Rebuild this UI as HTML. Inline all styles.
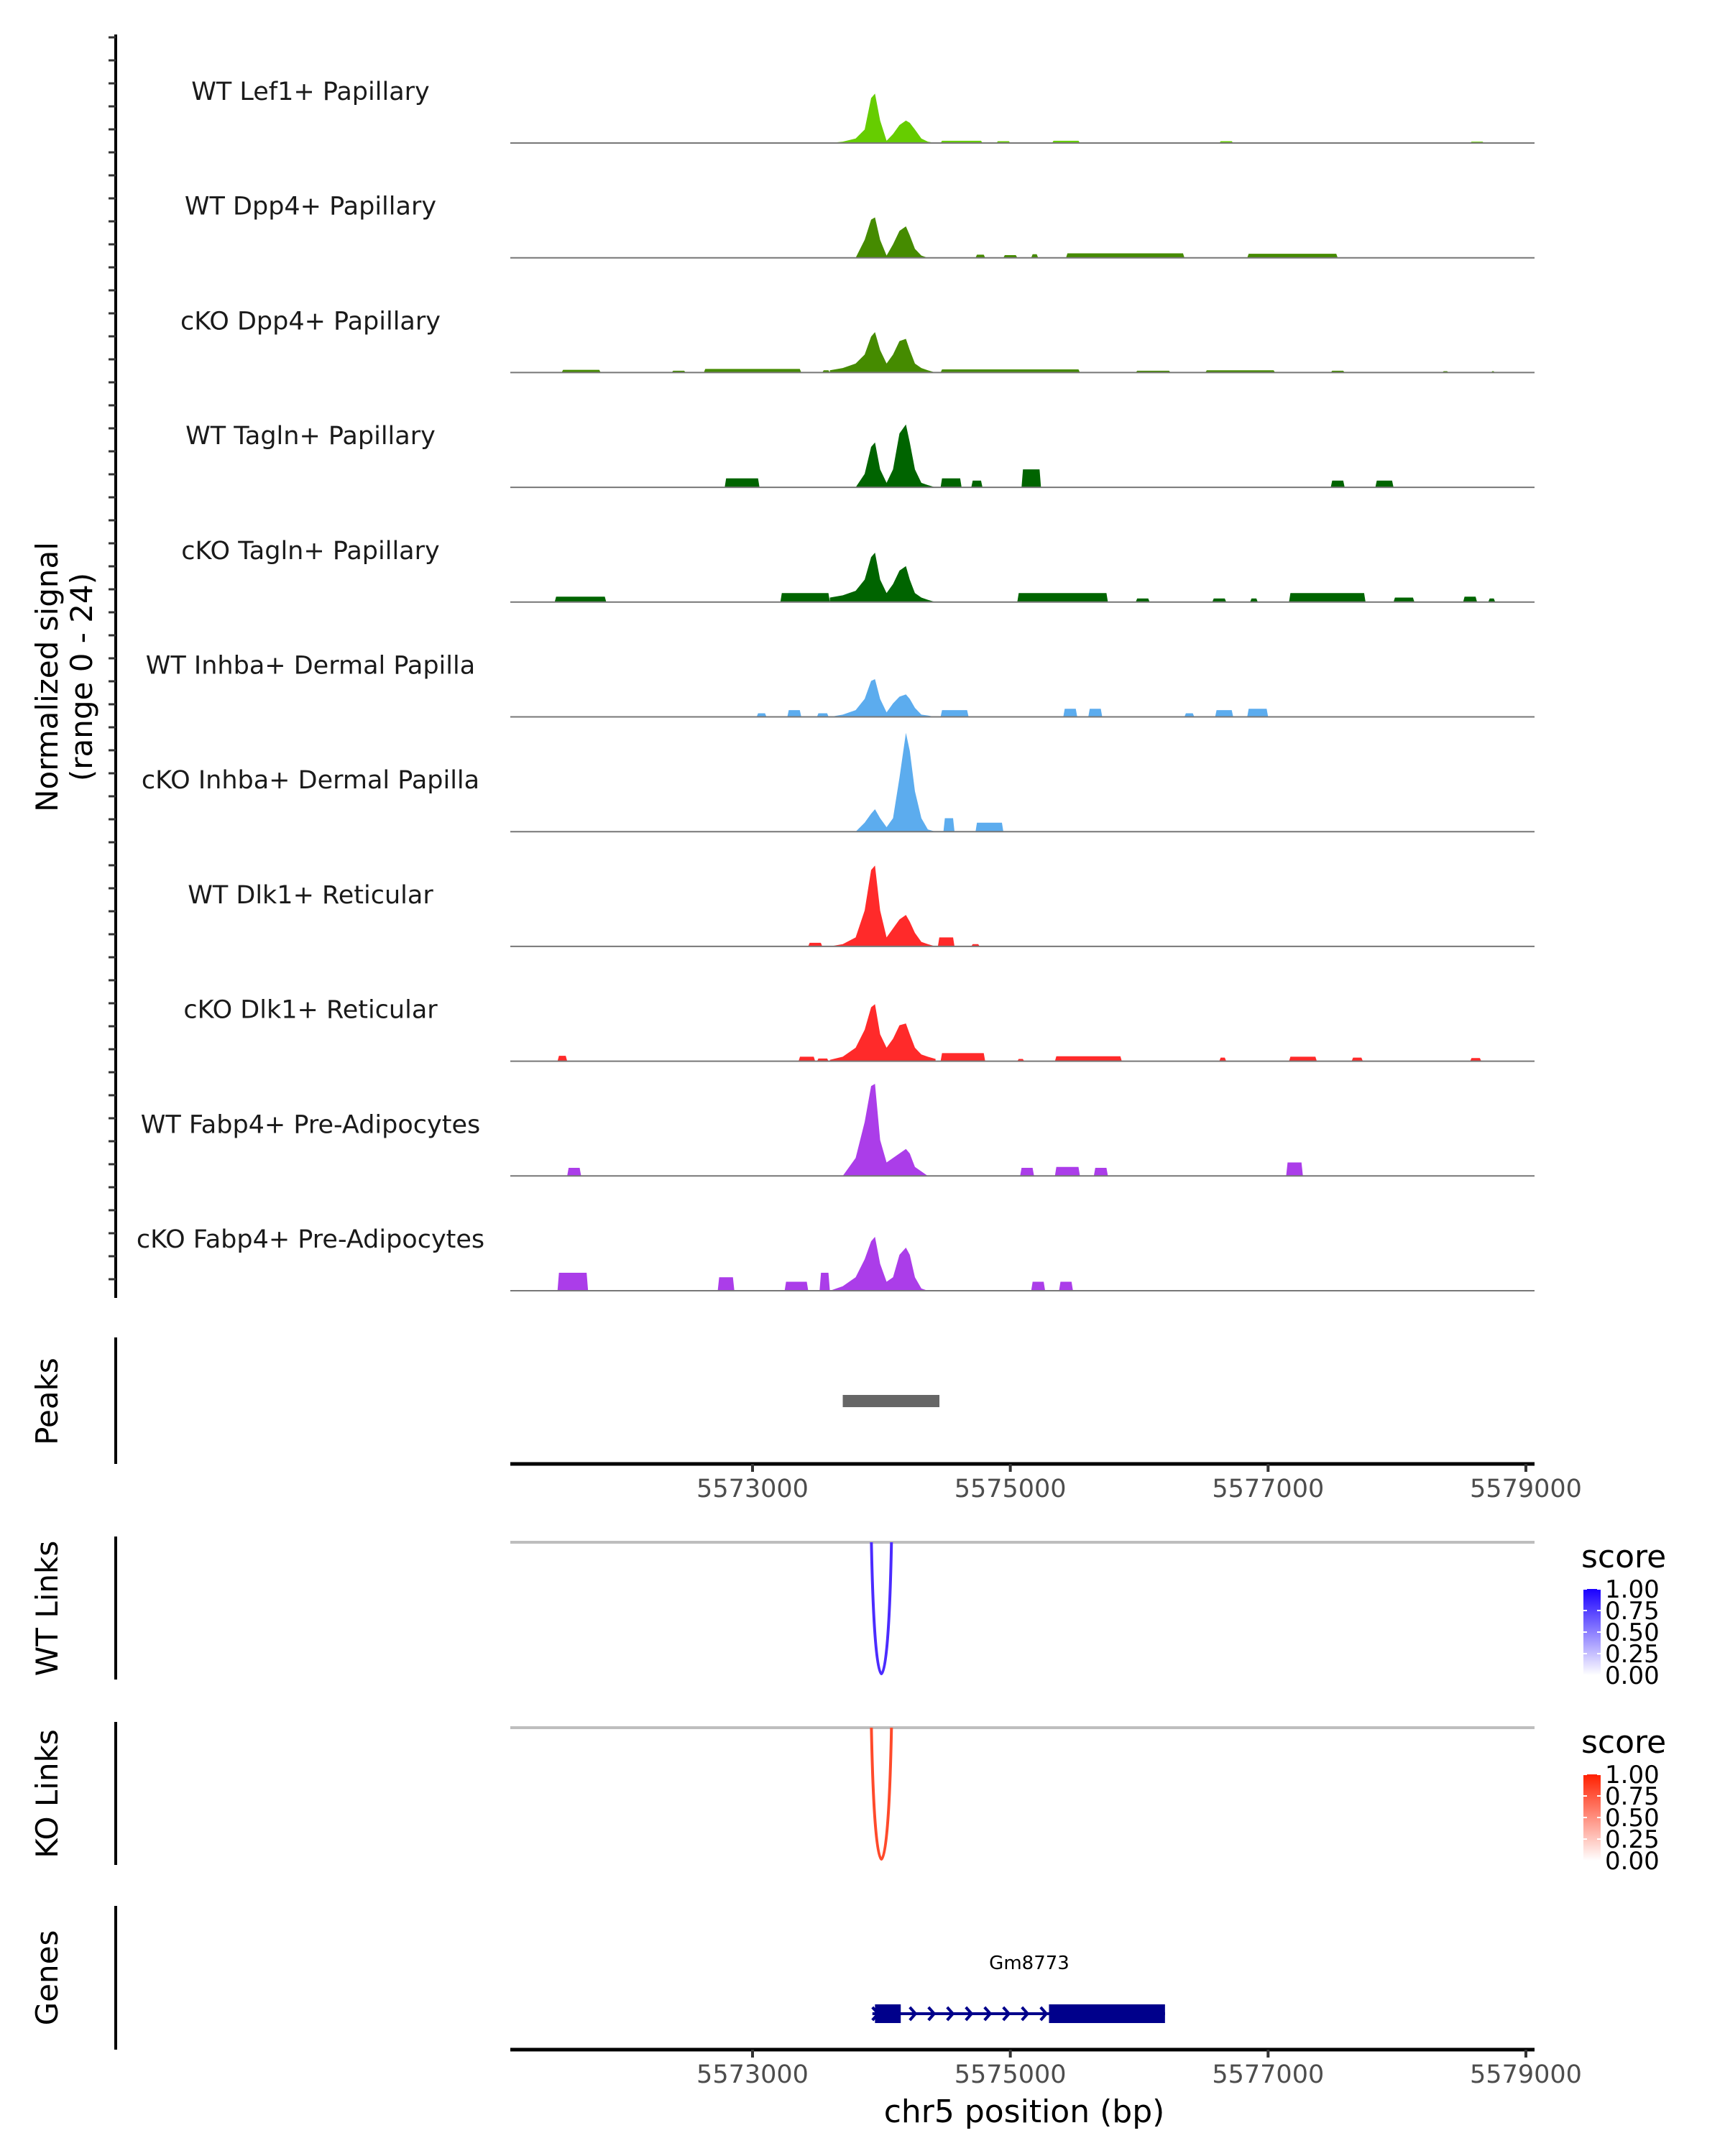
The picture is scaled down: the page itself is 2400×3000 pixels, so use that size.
<!DOCTYPE html>
<html><head><meta charset="utf-8"><style>
html,body{margin:0;padding:0;background:#fff}
svg{display:block}
text{font-family:"DejaVu Sans","Liberation Sans",sans-serif}
</style></head><body>
<svg id="chart" width="2400" height="3000" viewBox="0 0 2400 3000" xmlns="http://www.w3.org/2000/svg"></svg>
<script>
const trackNames = ["WT Lef1+ Papillary","WT Dpp4+ Papillary","cKO Dpp4+ Papillary","WT Tagln+ Papillary","cKO Tagln+ Papillary","WT Inhba+ Dermal Papilla","cKO Inhba+ Dermal Papilla","WT Dlk1+ Reticular","cKO Dlk1+ Reticular","WT Fabp4+ Pre-Adipocytes","cKO Fabp4+ Pre-Adipocytes"];
const trackColors = ["#66cd00","#458b00","#458b00","#006400","#006400","#5cacee","#5cacee","#ff2a2a","#ff2a2a","#ab3de9","#ab3de9"];
const mainBp = [5573600,5573700,5573800,5573870,5573920,5573950,5573990,5574040,5574090,5574140,5574190,5574220,5574260,5574310,5574360,5574420];
const mainVals = [
 [0,0.3,1,3,10,11,5,0.5,2,4,5,4.5,3,1,0.3,0],
 [0,0,0,4,8.5,9,4,0.5,3,6,7,5,2,0.5,0,0],
 [0.5,1,2,4,8,9,5,2,4,7,7.5,5,2,1,0.5,0],
 [0,0,0,3,9,10,4,1,4,12,14,10,4,1,0.5,0],
 [1,1.5,2.5,5,10,11,5,2,4,7,8,5,2,1,0.5,0],
 [0,0.5,1.5,4,8,8.4,4,1,3,4.5,5,4,2,0.5,0.3,0],
 [0,0,0,2,4,5,3,1,3,12,22,18,9,3,0.5,0],
 [0,0.5,2,8,17,18,8,2,4,6,7,5.5,3,1,0.5,0],
 [0.3,1,3,7,12,12.7,6,3,5,8,8.4,6,3,1.5,1,0.5],
 [0,0,4,12,20,20.5,8,3,4,5,6,5,2,1,0,0],
 [0,1,3,7,11,12,6,2,3,8,9.6,8,3,0.5,0,0]
];
const bumps = [
 [[5574459,5574784,0.5],[5574892,5575000,0.4],[5575324,5575540,0.5],[5576621,5576729,0.4],[5578567,5578675,0.3]],
 [[5574730,5574805,0.7],[5574946,5575054,0.6],[5575162,5575216,0.8],[5575432,5576351,1.0],[5576838,5577540,0.9]],
 [[5571519,5571822,0.6],[5572373,5572481,0.4],[5572622,5573378,0.8],[5573541,5573600,0.5],[5574459,5575540,0.7],[5575973,5576243,0.4],[5576513,5577054,0.5],[5577486,5577594,0.4],[5578351,5578400,0.3],[5578729,5578760,0.3]],
 [[5572784,5573054,2],[5574459,5574622,2],[5574697,5574784,1.5],[5575087,5575238,4],[5577486,5577594,1.5],[5577832,5577973,1.5]],
 [[5571465,5571865,1.2],[5573216,5573600,2],[5575054,5575757,2],[5575973,5576081,0.8],[5576567,5576675,0.8],[5576860,5576920,0.8],[5577162,5577756,2],[5577973,5578135,1],[5578513,5578621,1.2],[5578708,5578762,0.8]],
 [[5573032,5573108,0.8],[5573270,5573378,1.5],[5573500,5573590,0.8],[5574459,5574676,1.5],[5575411,5575519,1.8],[5575605,5575713,1.8],[5576351,5576427,0.8],[5576589,5576729,1.5],[5576838,5577000,1.8]],
 [[5574481,5574567,3],[5574730,5574946,2]],
 [[5573432,5573541,0.8],[5574438,5574567,2],[5574697,5574762,0.5]],
 [[5571487,5571562,1.2],[5573357,5573486,1],[5573500,5573590,0.6],[5574459,5574805,1.8],[5575054,5575108,0.5],[5575346,5575865,1.1],[5576621,5576675,0.8],[5577162,5577378,1],[5577648,5577735,0.8],[5578567,5578654,0.7]],
 [[5571562,5571670,1.8],[5575076,5575184,1.8],[5575346,5575540,2],[5575648,5575757,1.8],[5577140,5577270,3]],
 [[5571487,5571724,4],[5572730,5572859,3],[5573249,5573432,2],[5573520,5573600,4],[5575162,5575270,2],[5575378,5575486,2]]
];
const xTicks = [5573000,5575000,5577000,5579000];
const peakRegion = [5573700,5574450];
const linkStart = [5573950];
const linkEnd = [5574050];
const geneExons = [[5573950,5574150],[5575300,5576200]];
const geneSpan = [5573930,5576200];
const legendTicks = ["1.00","0.75","0.50","0.25","0.00"];

const svg = document.getElementById('chart');
const NS = 'http://www.w3.org/2000/svg';
function el(tag, attrs, parent){const e=document.createElementNS(NS,tag);for(const k in attrs)e.setAttribute(k,attrs[k]);(parent||svg).appendChild(e);return e;}
const X0=710, X1=2135;
function xs(bp){return 1047+(bp-5573000)*0.17933;}
const YMAX=24, TH=150;
function ys(v, base){return base - v/YMAX*TH;}
function baseOf(i){return 199+159.7*i;}

const ax = el('line',{x1:161,y1:48,x2:161,y2:1806,stroke:'#000','stroke-width':4});


for(let y=52;y<=1806;y+=32){
 const t=el('line',{x1:151,y1:y,x2:161,y2:y,stroke:'#333','stroke-width':3});
 
 
}
const yt = el('text',{transform:'translate(80,942) rotate(-90)','text-anchor':'middle','font-size':42,fill:'#000'});


yt.textContent='Normalized signal';
const yt2 = el('text',{transform:'translate(128,942) rotate(-90)','text-anchor':'middle','font-size':42,fill:'#000'});


yt2.textContent='(range 0 - 24)';

trackNames.forEach((name,i)=>{
 const base=baseOf(i);
 const g=el('g',{});
 
 
 const lab=el('text',{x:432,y:base-60,'text-anchor':'middle','font-size':35,fill:'#1a1a1a'},g);
 
 
 lab.textContent=name;
 bumps[i].forEach(b=>{
  const x1=xs(b[0]),x2=xs(b[1]),y=ys(b[2],base);
  const p=el('polygon',{points:`${x1},${base} ${x1+2},${y} ${x2-2},${y} ${x2},${base}`,fill:trackColors[i]},g);
  
  
 });
 let pts=mainBp.map((bp,j)=>`${xs(bp)},${ys(mainVals[i][j],base)}`);
 pts.unshift(`${xs(mainBp[0])},${base}`);
 pts.push(`${xs(mainBp[mainBp.length-1])},${base}`);
 const mp=el('polygon',{points:pts.join(' '),fill:trackColors[i]},g);
 
 
 const bl=el('line',{x1:X0,y1:base,x2:X1,y2:base,stroke:'#777','stroke-width':2},g);
 
 
});

function sideLabel(txt,cy,name){
 const t=el('text',{transform:`translate(80,${cy}) rotate(-90)`,'text-anchor':'middle','font-size':42,fill:'#000'});
 
 
 t.textContent=txt;
}
function sideAxis(y1,y2,name){
 const l=el('line',{x1:161,y1:y1,x2:161,y2:y2,stroke:'#000','stroke-width':4});
 
 
}
function xAxis(y,name){
 const l=el('line',{x1:X0,y1:y,x2:X1,y2:y,stroke:'#000','stroke-width':5});
 
 
 xTicks.forEach(v=>{
  const t=el('line',{x1:xs(v),y1:y,x2:xs(v),y2:y+11,stroke:'#333','stroke-width':4});
  
  
  const tl=el('text',{x:xs(v),y:y+46,'text-anchor':'middle','font-size':35,fill:'#4d4d4d'});
  
  
  tl.textContent=v;
 });
}
sideAxis(1861,2037,'peaks-axis-line');
sideLabel('Peaks',1950,'peaks-label');
const pk=el('rect',{x:xs(peakRegion[0]),y:1941,width:xs(peakRegion[1])-xs(peakRegion[0]),height:17,fill:'#666'});


xAxis(2037,'peaks-x-axis');

function links(top,bottom,color,label,name,cy,gradId,c1){
 sideAxis(top-8,bottom,name+'-axis-line');
 sideLabel(label,cy,name+'-label');
 const gl=el('line',{x1:X0,y1:top,x2:X1,y2:top,stroke:'#bebebe','stroke-width':4});
 
 
 const a=xs(linkStart[0]), b=xs(linkEnd[0]), m=(a+b)/2;
 const arc=el('path',{d:`M${a-5},${top} C${a-2},${bottom-40} ${m-4},${bottom-8} ${m},${bottom-8} C${m+4},${bottom-8} ${b+2},${bottom-40} ${b+5},${top}`,fill:'none',stroke:color,'stroke-width':4});
 
 
 const defs=el('defs',{});
 const lg=el('linearGradient',{id:gradId,x1:0,y1:1,x2:0,y2:0},defs);
 el('stop',{offset:0,'stop-color':'#fff'},lg);
 el('stop',{offset:1,'stop-color':c1},lg);
 const lt=el('text',{x:2200,y:top+35,'font-size':44,fill:'#000'});
 
 
 lt.textContent='score';
 const cb=el('rect',{x:2203,y:top+65,width:24,height:120,fill:`url(#${gradId})`});
 
 
 legendTicks.forEach((t,k)=>{
  const yy=top+65+k*30;
  const tt=el('text',{x:2233,y:yy+12,'font-size':34,fill:'#000'});
  
  
  tt.textContent=t;
  el('line',{x1:2203,y1:yy,x2:2208,y2:yy,stroke:'#fff','stroke-width':2});
  el('line',{x1:2222,y1:yy,x2:2227,y2:yy,stroke:'#fff','stroke-width':2});
 });
}
links(2146,2337,'#4b2bff','WT Links','wt-links',2238,'gWT','#1a00ff');
links(2404,2595,'#ff4a2b','KO Links','ko-links',2496,'gKO','#ff2000');

sideAxis(2652,2852,'genes-axis-line');
sideLabel('Genes',2752,'genes-label');
const gname=el('text',{x:1432,y:2740,'text-anchor':'middle','font-size':26,fill:'#000'});


gname.textContent='Gm8773';
const gl=el('line',{x1:xs(geneSpan[0]),y1:2802,x2:xs(geneSpan[1]),y2:2802,stroke:'#00008b','stroke-width':4});


for(let x=xs(geneSpan[0]);x<xs(geneExons[1][0]);x+=26){
 const c=el('polyline',{points:`${x},2793 ${x+8},2802 ${x},2811`,fill:'none',stroke:'#00008b','stroke-width':4});
 
 
}
geneExons.forEach(e=>{
 const r=el('rect',{x:xs(e[0]),y:2789,width:xs(e[1])-xs(e[0]),height:26,fill:'#00008b'});
 
 
});
xAxis(2852,'genes-x-axis');
const xt=el('text',{x:1425,y:2953,'text-anchor':'middle','font-size':44,fill:'#000'});


xt.textContent='chr5 position (bp)';
</script>
</body></html>
